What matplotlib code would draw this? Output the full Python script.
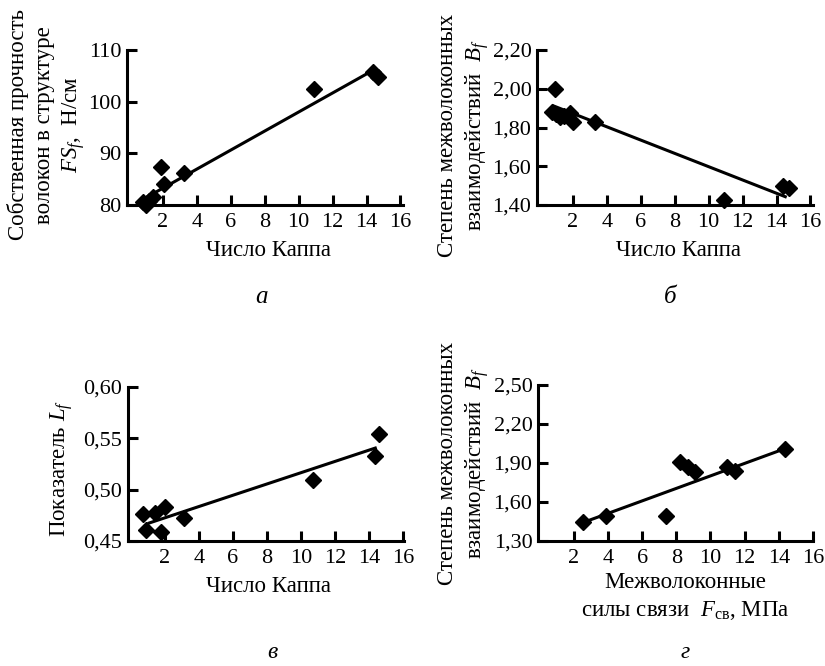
import matplotlib
matplotlib.use("Agg")
import matplotlib.pyplot as plt
from matplotlib.ticker import FuncFormatter

plt.rcParams['font.family'] = ['Liberation Serif', 'DejaVu Serif']
plt.rcParams['mathtext.fontset'] = 'custom'
plt.rcParams['mathtext.rm'] = 'Liberation Serif'
plt.rcParams['mathtext.it'] = 'Liberation Serif:italic'

# ---------------- data ----------------
# panel а: FS_f vs Kappa number
a_x = [0.8, 1.0, 1.2, 1.4, 1.9, 2.07, 3.25, 10.9, 14.4, 14.7]
a_y = [80.5, 80.0, 80.8, 81.5, 87.4, 84.1, 86.2, 102.4, 105.7, 104.8]
a_fit_x = [0.55, 14.4]
a_fit_y = [80.6, 106.1]

# panel б: B_f vs Kappa number
b_x = [0.75, 0.95, 1.0, 1.25, 1.5, 1.85, 2.0, 3.3, 10.9, 14.4, 14.75]
b_y = [1.88, 2.00, 1.87, 1.855, 1.86, 1.875, 1.83, 1.83, 1.425, 1.50, 1.49]
b_fit_x = [0.75, 14.6]
b_fit_y = [1.915, 1.44]

# panel в: L_f vs Kappa number
c_x = [0.72, 0.92, 1.41, 1.76, 2.0, 3.14, 10.7, 14.35, 14.6]
c_y = [0.476, 0.461, 0.477, 0.459, 0.483, 0.4725, 0.509, 0.533, 0.554]
c_fit_x = [1.0, 14.45]
c_fit_y = [0.467, 0.541]

# panel г: B_f vs bonding strength
d_x = [2.55, 3.91, 7.42, 8.24, 8.69, 9.12, 10.94, 11.42, 14.35]
d_y = [1.446, 1.493, 1.493, 1.904, 1.871, 1.832, 1.871, 1.84, 2.005]
d_fit_x = [2.5, 14.35]
d_fit_y = [1.44, 2.01]

x_ticks = [2, 4, 6, 8, 10, 12, 14, 16]
a_yticks = [80, 90, 100, 110]
b_yticks = [1.40, 1.60, 1.80, 2.00, 2.20]
c_yticks = [0.45, 0.50, 0.55, 0.60]
d_yticks = [1.30, 1.60, 1.90, 2.20, 2.50]

W, H = 825, 666
fig = plt.figure(figsize=(W / 100, H / 100), dpi=100)


def box(left, top, right, bottom):
    return [left / W, 1 - bottom / H, (right - left) / W, (bottom - top) / H]


def ptxt(x, y, s, **kw):
    fig.text(x / W, 1 - y / H, s, **kw)


FS = 16.5
TFS = 16


def style(ax, xs, ys, fx, fy, yticks, ylim, xlim, fmt):
    ax.plot(fx, fy, color='black', lw=2.2, solid_capstyle='butt', zorder=2)
    ax.plot(xs, ys, linestyle='none', marker='D', markersize=8,
            color='black', zorder=3, clip_on=False)
    ax.set_xlim(*xlim)
    ax.set_ylim(*ylim)
    ax.set_xticks(x_ticks)
    ax.set_yticks(yticks)
    ax.yaxis.set_major_formatter(FuncFormatter(fmt))
    for s in ['top', 'right']:
        ax.spines[s].set_visible(False)
    for s in ['left', 'bottom']:
        ax.spines[s].set_linewidth(2.2)
    ax.tick_params(direction='in', length=7.5, width=2.2, labelsize=TFS)
    ax.tick_params(axis='x', pad=6)
    ax.tick_params(axis='y', pad=4)


def comma2(v, pos):
    return f"{v:.2f}".replace('.', ',')


def intf(v, pos):
    return f"{v:.0f}"


ax1 = fig.add_axes(box(127, 50, 403, 205))
style(ax1, a_x, a_y, a_fit_x, a_fit_y, a_yticks, (80, 110), (-0.12, 16.15), intf)

ax2 = fig.add_axes(box(537, 50, 813, 205))
style(ax2, b_x, b_y, b_fit_x, b_fit_y, b_yticks, (1.40, 2.20), (-0.12, 16.15), comma2)

ax3 = fig.add_axes(box(128, 387, 404, 541))
style(ax3, c_x, c_y, c_fit_x, c_fit_y, c_yticks, (0.45, 0.60), (-0.15, 16.05), comma2)

ax4 = fig.add_axes(box(538, 385, 813, 541))
style(ax4, d_x, d_y, d_fit_x, d_fit_y, d_yticks, (1.30, 2.50), (-0.09, 16.0), comma2)

# y labels
ptxt(47, 125, "Собственная прочность\nволокон в структуре\n$FS_f$,  Н/см",
     rotation=90, ha='center', va='center', ma='center', fontsize=FS, linespacing=1.3)
ptxt(464, 135, "Степень межволоконных\nвзаимодействий  $B_f$",
     rotation=90, ha='center', va='center', ma='center', fontsize=FS, linespacing=1.25)
ptxt(62, 468, "Показатель $L_f$",
     rotation=90, ha='center', va='center', fontsize=FS)
ptxt(464, 463, "Степень межволоконных\nвзаимодействий  $B_f$",
     rotation=90, ha='center', va='center', ma='center', fontsize=FS, linespacing=1.25)

# x labels
ptxt(268, 250, "Число Каппа", ha='center', va='center', fontsize=FS)
ptxt(678, 250, "Число Каппа", ha='center', va='center', fontsize=FS)
ptxt(268, 587, "Число Каппа", ha='center', va='center', fontsize=FS)
ptxt(685, 582, "Межволоконные", ha='center', va='center', fontsize=FS)
ptxt(685, 610, r"силы связи  $F_{\mathrm{св}}$, МПа", ha='center', va='center', fontsize=FS)

# panel letters
ptxt(262, 297, "а", ha='center', va='center', fontsize=18, style='italic')
ptxt(670, 297, "б", ha='center', va='center', fontsize=18, style='italic')
ptxt(272, 653, "в", ha='center', va='center', fontsize=17, style='italic')
ptxt(685, 653, "г", ha='center', va='center', fontsize=17, style='italic')

fig.savefig("out.png", dpi=100)
